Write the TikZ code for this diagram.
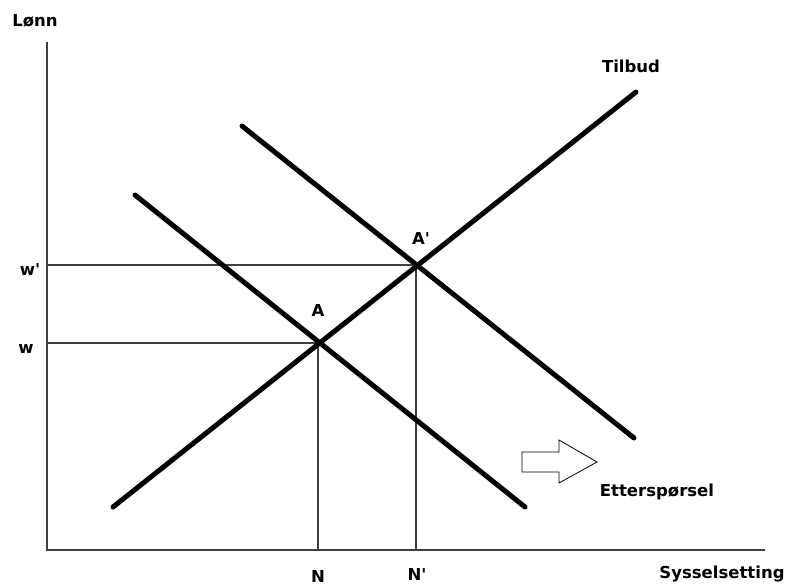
\documentclass[tikz,border=0pt]{standalone}
\usepackage{fontspec}
\setmainfont{DejaVu Sans}
\usepackage{tikz}
\usetikzlibrary{arrows.meta,positioning}

\begin{document}
\begin{tikzpicture}[
  x=1pt, y=-1pt,
  font=\fontsize{16.5}{19}\selectfont\bfseries,
  akse/.style={line width=1.8pt, black!75},
  hjelp/.style={line width=1.2pt, black!75},
  kurve/.style={line width=5pt, line cap=round},
  lbl/.style={inner sep=1pt}
]
\useasboundingbox (0,0) rectangle (789,588);
% axes
\coordinate (top) at (47,42);
\coordinate (O) at (47,550);
\coordinate (right) at (765,550);
\draw[akse] (top) -- (O) -- (right);
% curve end points
\coordinate (s1) at (113,507);
\coordinate (s2) at (636,92);
\coordinate (d1) at (135,195);
\coordinate (d2) at (525,507);
\coordinate (e1) at (242,126);
\coordinate (e2) at (634,438);
% equilibria
\coordinate (A) at (318,343);
\coordinate (A2) at (416,265);
\coordinate (wy) at (47,343);
\coordinate (w2y) at (47,265);
\coordinate (Nx) at (318,550);
\coordinate (N2x) at (416,550);
\draw[hjelp] (wy) -- (A) -- (Nx);
\draw[hjelp] (w2y) -- (A2) -- (N2x);
\draw[kurve] (s1) -- (s2);
\draw[kurve] (d1) -- (d2);
\draw[kurve] (e1) -- (e2);
% shift arrow
\draw[line width=0.8pt, fill=white] (522,452) -- (559,452) -- (559,440) -- (597,462)
  -- (559,483) -- (559,472) -- (522,472) -- cycle;
% labels
\node[lbl] (lonn) at (35,21) {Lønn};
\node[lbl] (sys) at (722,574) {Sysselsetting};
\node[lbl] (tilbud) at (631,66) {Tilbud};
\node[lbl] (ett) at (657,492) {Etterspørsel};
\node[lbl] (la) at (318,310) {A};
\node[lbl] (la2) at (421,238) {A\textquotesingle};
\node[lbl] (lw) at (26,349) {w};
\node[lbl] (lw2) at (30,269) {w\textquotesingle};
\node[lbl] (lN) at (318,576) {N};
\node[lbl] (lN2) at (417,574) {N\textquotesingle};
\end{tikzpicture}
\end{document}
